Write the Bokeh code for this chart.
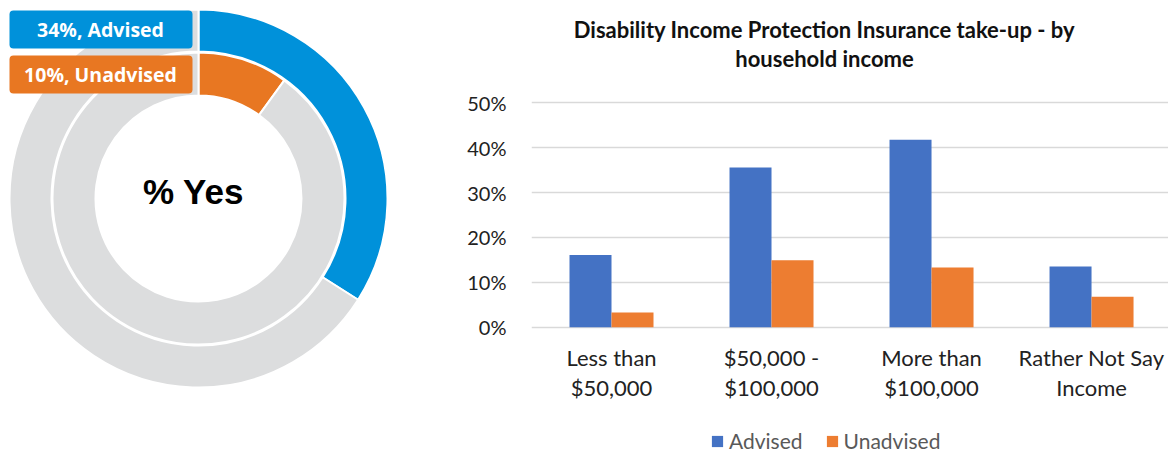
import math
from bokeh.plotting import figure
from bokeh.layouts import row
from bokeh.models import (Range1d, ColumnDataSource, FixedTicker,
                          NumeralTickFormatter, Label, BoxAnnotation, Legend, LegendItem)
from bokeh.transform import dodge
from bokeh.core.properties import value
from bokeh.embed import file_html
from bokeh.resources import INLINE

# ---------------- data ----------------
ring_labels = ["Advised", "Unadvised"]
ring_yes = [34, 10]
center_label = "% Yes"

categories = ["Less than\n$50,000", "$50,000 -\n$100,000",
              "More than\n$100,000", "Rather Not Say\nIncome"]
advised = [0.161, 0.356, 0.418, 0.135]
unadvised = [0.033, 0.149, 0.133, 0.068]
y_ticks = [0, 0.1, 0.2, 0.3, 0.4, 0.5]
series_names = ["Advised", "Unadvised"]
title_text = "Disability Income Protection Insurance take-up - by\nhousehold income"

# ---------------- donut ----------------
d = figure(width=440, height=452, x_range=Range1d(0, 440), y_range=Range1d(0, 452),
           output_backend="svg", toolbar_location=None, min_border=0,
           x_axis_type=None, y_axis_type=None, outline_line_color=None, title=None)
d.grid.visible = False

cx, cy = 198, 254
ring_colors = ["#0091DA", "#E87722"]
ring_radii = [(147, 189), (103, 146)]
gray = "#DCDDDE"
for pct, col, (r_in, r_out) in zip(ring_yes, ring_colors, ring_radii):
    frac = pct / 100.0
    top = math.pi / 2
    src = ColumnDataSource(dict(
        start=[top - 2 * math.pi * frac, top],
        end=[top, top - 2 * math.pi * frac + 2 * math.pi],
        color=[col, gray]))
    d.annular_wedge(x=cx, y=cy, inner_radius=r_in, outer_radius=r_out,
                    start_angle="start", end_angle="end", fill_color="color",
                    line_color="white", line_width=2, source=src)

box_tops = [442, 397]
for lab, pct, col, bt in zip(ring_labels, ring_yes, ring_colors, box_tops):
    d.add_layout(BoxAnnotation(left=9, right=192, top=bt, bottom=bt - 38,
                               fill_color=col, fill_alpha=1, line_color=None,
                               border_radius=4))
    d.add_layout(Label(x=100, y=bt - 19, text=f"{pct}%, {lab}", text_align="center",
                       text_baseline="middle", text_color="white",
                       text_font="Open Sans", text_font_style="bold",
                       text_font_size="19.5px"))

d.add_layout(Label(x=193, y=261.5, text=center_label, text_align="center",
                   text_baseline="middle", text_color="black",
                   text_font="Liberation Sans", text_font_style="bold",
                   text_font_size="35px"))

# ---------------- bar chart ----------------
p = figure(width=728, height=452, x_range=Range1d(-0.5, 3.481),
           y_range=Range1d(-0.2793, 0.7281),
           output_backend="svg", toolbar_location=None, x_axis_type=None,
           min_border_left=91, min_border_right=0, min_border_top=0,
           min_border_bottom=0, outline_line_color=None, title=None)

src = ColumnDataSource(dict(x=list(range(len(categories))), advised=advised,
                            unadvised=unadvised, cat=categories))
r1 = p.vbar(x=dodge("x", -0.13125), top="advised", width=0.2625, source=src,
            fill_color="#4472C4", line_color=None)
r2 = p.vbar(x=dodge("x", 0.13125), top="unadvised", width=0.2625, source=src,
            fill_color="#ED7D31", line_color=None)

ya = p.yaxis[0]
ya.ticker = FixedTicker(ticks=y_ticks)
ya.formatter = NumeralTickFormatter(format="0%")
ya.axis_line_color = None
ya.major_tick_line_color = None
ya.minor_tick_line_color = None
ya.major_label_text_font = "Lato"
ya.major_label_text_font_size = "20px"
ya.major_label_text_color = "#222222"
ya.major_label_standoff = 19

p.ygrid.grid_line_color = "#D9D9D9"
p.ygrid.grid_line_width = 1.5

# category labels under each group
p.text(x="x", y=-0.037, text="cat", source=src,
       text_align="center", text_baseline="top", text_color="#222222",
       text_font=value("Lato"), text_font_size="22px", text_line_height=1.117)

p.add_layout(Label(x=1.331, y=0.6935, text=title_text,
                   text_align="center", text_baseline="top", text_color="#111111",
                   text_font="Lato", text_font_style="bold", text_font_size="22px",
                   text_line_height=1.06))

legend = Legend(items=[LegendItem(label=series_names[0], renderers=[r1]),
                       LegendItem(label=series_names[1], renderers=[r2])],
                orientation="horizontal", location=(179, -1),
                border_line_color=None, background_fill_alpha=0,
                label_text_font="Lato", label_text_font_size="21px",
                label_text_color="#595959", glyph_width=14, glyph_height=14,
                label_standoff=5, spacing=22, padding=0, margin=0)
p.add_layout(legend)

layout = row(d, p)
open("out.html", "w").write(file_html(layout, INLINE))
